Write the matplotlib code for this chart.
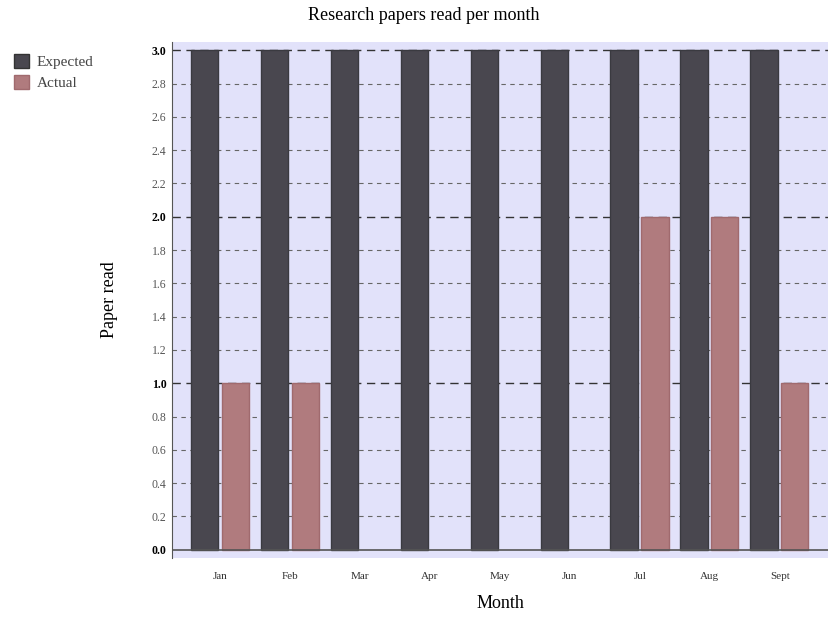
import numpy as np
import matplotlib
matplotlib.use("Agg")
from matplotlib import pyplot as plt
from matplotlib.patches import Patch

months = ["Jan", "Feb", "Mar", "Apr", "May", "Jun", "Jul", "Aug", "Sept"]
expected = [3, 3, 3, 3, 3, 3, 3, 3, 3]
actual = [1, 1, 0, 0, 0, 0, 2, 2, 1]

plt.rcParams['font.family'] = ['Liberation Serif', 'DejaVu Serif']

fig = plt.figure(figsize=(8.4, 6.18), dpi=100)
ax = fig.add_axes([172/840, 1-558/618, 656/840, 516/618])
ax.set_facecolor('#e2e2fa')

x = np.arange(len(months))
w = 0.39
ax.bar(x - 0.225, expected, w, color='#49474f', edgecolor='#3a3a40', linewidth=1, zorder=3)
# skip zero-height bars so they don't leave a line on the axis
act = np.array(actual)
nz = act > 0
ax.bar(x[nz] + 0.215, act[nz], w, color='#b07b7e', edgecolor='#a06a6e', linewidth=1, zorder=3)

ax.set_xlim(-0.69, 8.69)
ax.set_ylim(-0.05, 3.05)
yt = np.round(np.arange(0, 3.01, 0.2), 1)
ax.set_yticks(yt)
ax.set_yticklabels([f"{v:.1f}" for v in yt])
for v, lab in zip(yt, ax.get_yticklabels()):
    major = abs(v - round(v)) < 1e-6
    lab.set_color('#000000' if major else '#555555')
    lab.set_fontweight('bold' if major else 'normal')
    if v > 0:
        ax.axhline(v, color='#333333' if major else '#666666', lw=1 if major else 0.8,
                   ls=(0, (6, 4)) if major else (0, (4, 4)), zorder=2)
ax.axhline(0, color='#555555', lw=1.2, zorder=4)
ax.tick_params(axis='y', labelsize=8.5, length=0, pad=4)
ax.set_xticks(x)
ax.set_xticklabels(months)
ax.tick_params(axis='x', labelsize=8, length=0, pad=10, colors='#333333')
for s in ['top', 'right', 'bottom']:
    ax.spines[s].set_visible(False)
ax.spines['left'].set_color('#555555')

ax.set_xlabel("Month", fontsize=13, labelpad=10)
ax.set_ylabel("Paper read", fontsize=13, labelpad=24)
fig.text(424/840, 1-15/618, "Research papers read per month", ha='center', va='center', fontsize=13)

handles = [Patch(facecolor='#49474f', edgecolor='#333333'), Patch(facecolor='#b07b7e', edgecolor='#a06a6e')]
fig.legend(handles, ["Expected", "Actual"], loc='upper left', bbox_to_anchor=(0.0, 0.935),
           frameon=False, fontsize=11, handlelength=1.0, handleheight=1.0, labelcolor='#444444',
           handletextpad=0.5, labelspacing=0.4)

fig.savefig("out.png", dpi=100)
